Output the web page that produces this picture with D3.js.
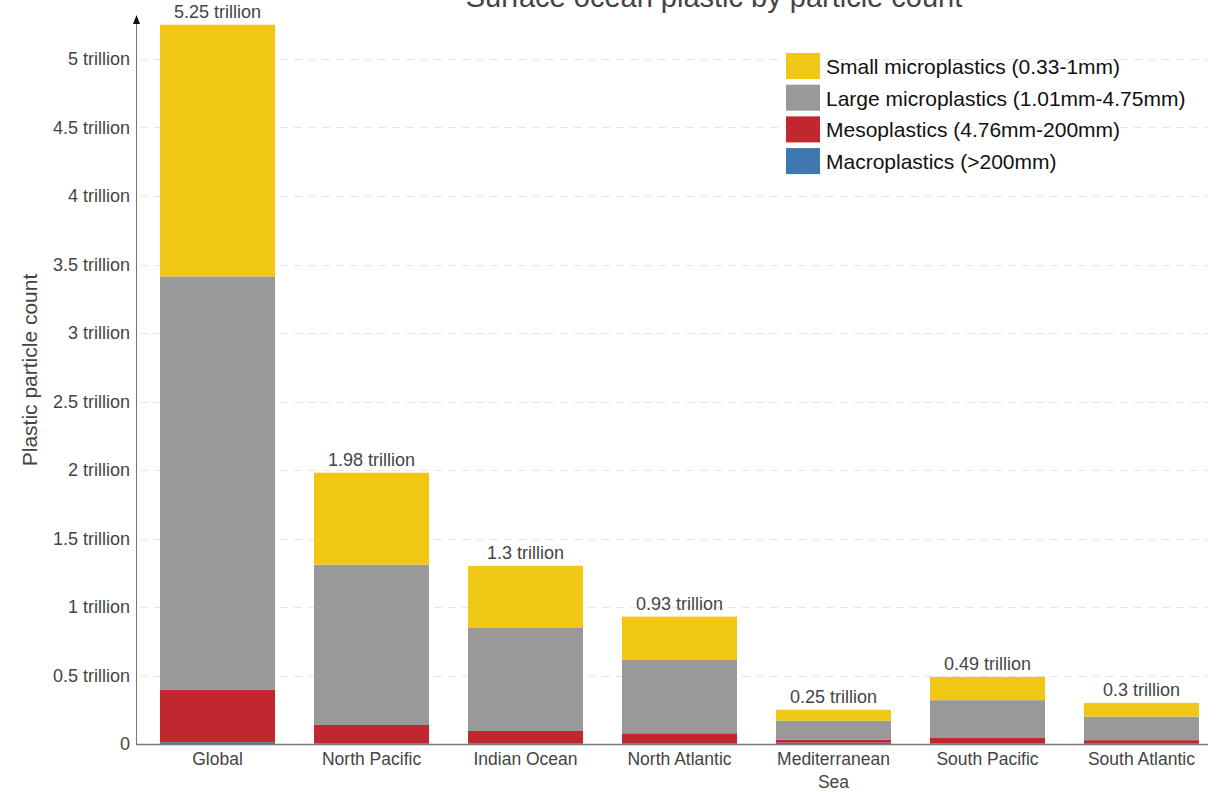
<!DOCTYPE html>
<html>
<head>
<meta charset="utf-8">
<script src="https://cdn.jsdelivr.net/npm/d3@7"></script>
<style>
  body { margin: 0; background: #fff; }
  svg { display: block; font-family: "Liberation Sans", Arial, Helvetica, sans-serif; }
</style>
</head>
<body>
<svg id="chart" width="1217" height="792"></svg>
<script>
const categories = ["Global", "North Pacific", "Indian Ocean", "North Atlantic", "Mediterranean Sea", "South Pacific", "South Atlantic"];
const seriesNames = ["Macroplastics (>200mm)", "Mesoplastics (4.76mm-200mm)", "Large microplastics (1.01mm-4.75mm)", "Small microplastics (0.33-1mm)"];
// values in trillions, per category
const macro = [0.013, 0.004, 0.003, 0.003, 0.010, 0.004, 0.003];
const meso  = [0.382, 0.135, 0.092, 0.075, 0.020, 0.040, 0.025];
const large = [3.018, 1.170, 0.752, 0.535, 0.140, 0.276, 0.172];
const small = [1.837, 0.671, 0.453, 0.317, 0.080, 0.170, 0.100];
const totals = [5.25, 1.98, 1.3, 0.93, 0.25, 0.49, 0.3];
const totalLabels = ["5.25 trillion", "1.98 trillion", "1.3 trillion", "0.93 trillion", "0.25 trillion", "0.49 trillion", "0.3 trillion"];
const yTicks = [0, 0.5, 1, 1.5, 2, 2.5, 3, 3.5, 4, 4.5, 5];
const yTickLabels = ["0", "0.5 trillion", "1 trillion", "1.5 trillion", "2 trillion", "2.5 trillion", "3 trillion", "3.5 trillion", "4 trillion", "4.5 trillion", "5 trillion"];
const colors = ["#3f78ae", "#c1272e", "#999999", "#f1c716"];
const legendOrder = [3, 2, 1, 0];
const legendLabels = ["Small microplastics (0.33-1mm)", "Large microplastics (1.01mm-4.75mm)", "Mesoplastics (4.76mm-200mm)", "Macroplastics (>200mm)"];

const svg = d3.select("#chart");
const x0 = 136, baseY = 744;

const y = d3.scaleLinear().domain([0, 5]).range([baseY, 59]);
const x = d3.scaleBand().domain(categories).range([x0, 1223]).paddingInner(0.253).paddingOuter(0.156);

const rows = categories.map((c, i) => ({ cat: c, s0: macro[i], s1: meso[i], s2: large[i], s3: small[i] }));
const stack = d3.stack().keys(["s0", "s1", "s2", "s3"]);
const stacked = stack(rows);

// title
svg.append("text").attr("x", 714).attr("y", 7).attr("text-anchor", "middle")
  .attr("font-size", 29).attr("fill", "#444").text("Surface ocean plastic by particle count");

// grid
svg.append("g").selectAll("line").data(yTicks.filter(d => d > 0)).join("line")
  .attr("x1", x0 + 4).attr("x2", 1208)
  .attr("y1", d => Math.round(y(d)) + 0.5).attr("y2", d => Math.round(y(d)) + 0.5)
  .attr("stroke", "#e6e6e6").attr("stroke-width", 1).attr("stroke-dasharray", "8,6");

// bars
svg.append("g").selectAll("g").data(stacked).join("g")
  .attr("fill", (d, i) => colors[i])
  .selectAll("rect").data(d => d).join("rect")
  .attr("x", d => x(d.data.cat))
  .attr("width", x.bandwidth())
  .attr("y", d => y(d[1]))
  .attr("height", d => Math.max(0, y(d[0]) - y(d[1])));

// total labels
svg.append("g").selectAll("text").data(categories).join("text")
  .attr("x", d => x(d) + x.bandwidth() / 2)
  .attr("y", (d, i) => y(totals[i]) - 7)
  .attr("text-anchor", "middle").attr("font-size", 18).attr("fill", "#444")
  .text((d, i) => totalLabels[i]);

// y axis
const yAxis = d3.axisLeft(y).tickValues(yTicks).tickSize(0).tickPadding(6)
  .tickFormat((d, i) => yTickLabels[i]);
const yg = svg.append("g").attr("transform", `translate(${x0},0)`).call(yAxis);
yg.select(".domain").remove();
yg.selectAll("text").attr("font-size", 18).attr("fill", "#444").attr("font-family", "Liberation Sans, Arial, sans-serif");
svg.append("line").attr("x1", x0 + 0.5).attr("x2", x0 + 0.5).attr("y1", 22).attr("y2", baseY)
  .attr("stroke", "#777").attr("stroke-width", 1);
svg.append("path").attr("d", `M${x0 + 0.5},15 L${x0 - 3},24 L${x0 + 4},24 Z`).attr("fill", "#111");

// x axis
const xAxis = d3.axisBottom(x).tickSize(0).tickPadding(9);
const xg = svg.append("g").attr("transform", `translate(0,${baseY})`).call(xAxis);
xg.select(".domain").remove();
svg.append("line").attr("x1", x0).attr("x2", 1208).attr("y1", baseY + 0.5).attr("y2", baseY + 0.5)
  .attr("stroke", "#777").attr("stroke-width", 1.5);
xg.selectAll("text").attr("font-size", 17.5).attr("fill", "#444").attr("font-family", "Liberation Sans, Arial, sans-serif")
  .each(function(d) {
    const t = d3.select(this);
    if (d === "Mediterranean Sea") {
      t.text(null);
      t.append("tspan").attr("x", 0).attr("dy", "0.71em").text("Mediterranean");
      t.append("tspan").attr("x", 0).attr("dy", "1.3em").text("Sea");
      t.attr("dy", null);
    }
  });

// y axis title
svg.append("text").attr("transform", "translate(37,370) rotate(-90)")
  .attr("text-anchor", "middle").attr("font-size", 21).attr("fill", "#444")
  .text("Plastic particle count");

// legend
const lg = svg.append("g").attr("transform", "translate(786,53)");
legendOrder.forEach((si, i) => {
  const g = lg.append("g").attr("transform", `translate(0,${i * 31.7})`);
  g.append("rect").attr("width", 34).attr("height", 26).attr("fill", colors[si]);
  g.append("text").attr("x", 40).attr("y", 21).attr("font-size", 21).attr("fill", "#111").text(legendLabels[i]);
});
</script>
</body>
</html>
